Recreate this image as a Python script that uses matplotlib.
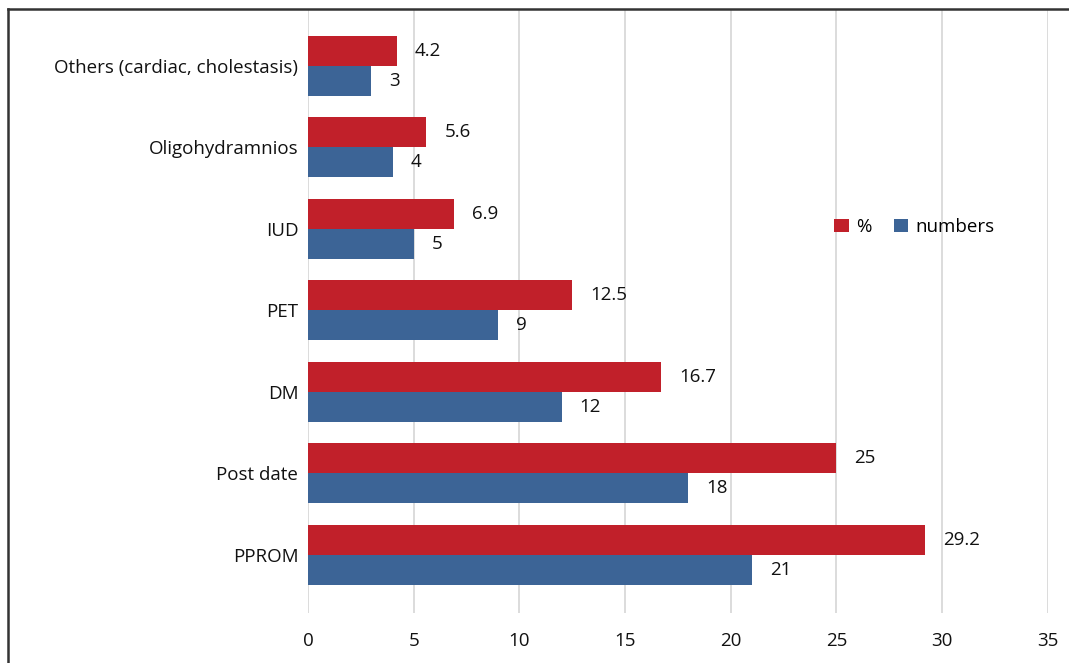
import matplotlib
matplotlib.use("Agg")
import matplotlib.pyplot as plt
from matplotlib.lines import Line2D
import numpy as np

plt.rcParams['font.family'] = ['Open Sans', 'DejaVu Sans']

categories = ["PPROM", "Post date", "DM", "PET", "IUD", "Oligohydramnios",
              "Others (cardiac, cholestasis)"]
percent = [29.2, 25, 16.7, 12.5, 6.9, 5.6, 4.2]
numbers = [21, 18, 12, 9, 5, 4, 3]
pct_labels = ["29.2", "25", "16.7", "12.5", "6.9", "5.6", "4.2"]
num_labels = ["21", "18", "12", "9", "5", "4", "3"]
xticks = [0, 5, 10, 15, 20, 25, 30, 35]

red = "#C1202A"
blue = "#3C6496"
txt = "#111111"
fs = 13.5

W, H = 1069, 663
fig = plt.figure(figsize=(W / 100, H / 100), dpi=100)
ax = fig.add_axes([308 / W, 50 / H, (1047.7 - 308) / W, (613 - 10) / H])

y = np.arange(len(categories))
bh = 0.368
b1 = ax.barh(y + bh / 2, percent, height=bh, color=red, label="%", zorder=3)
b2 = ax.barh(y - bh / 2, numbers, height=bh, color=blue, label="numbers", zorder=3)

for rect, lab in zip(b1, pct_labels):
    ax.annotate(lab, (rect.get_width(), rect.get_y() + rect.get_height() / 2),
                xytext=(13, 0), textcoords="offset points", va="center", ha="left",
                fontsize=fs, color=txt)
for rect, lab in zip(b2, num_labels):
    ax.annotate(lab, (rect.get_width(), rect.get_y() + rect.get_height() / 2),
                xytext=(13, 0), textcoords="offset points", va="center", ha="left",
                fontsize=fs, color=txt)

ax.set_xlim(0, 35)
ax.set_ylim(-0.712, 6.687)
ax.set_xticks(xticks)
ax.set_xticklabels([str(t) for t in xticks], fontsize=fs, color=txt)
ax.set_yticks(y)
ax.set_yticklabels(categories, fontsize=fs, color=txt)
ax.tick_params(axis="x", length=0, pad=14)
ax.tick_params(axis="y", length=0, pad=7)
for s in ax.spines.values():
    s.set_visible(False)
ax.grid(axis="x", color="#dcdcdc", linewidth=1.4, zorder=0)
ax.set_axisbelow(True)

leg = ax.legend(loc="center", bbox_to_anchor=(0.82, 0.64), ncol=2, frameon=False,
                fontsize=fs, handlelength=0.75, handleheight=0.75,
                handletextpad=0.4, columnspacing=1.2)

# figure border (top and left lines)
fig.add_artist(Line2D([8 / W, 8 / W], [0, 1 - 9 / H], transform=fig.transFigure,
                      color="#333333", linewidth=1.8))
fig.add_artist(Line2D([8 / W, 1], [1 - 9 / H, 1 - 9 / H], transform=fig.transFigure,
                      color="#333333", linewidth=1.8))

fig.savefig("out.png", dpi=100, facecolor="white")
